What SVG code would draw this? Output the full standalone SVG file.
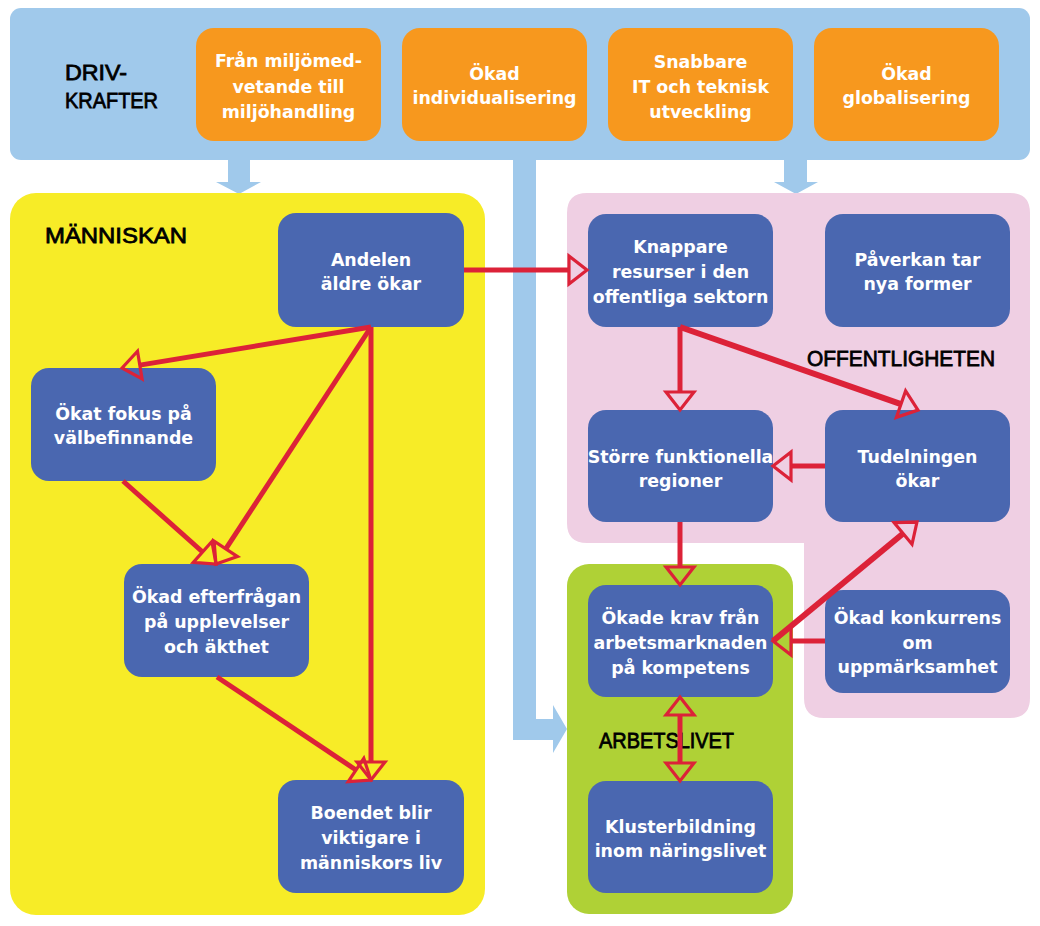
<svg xmlns="http://www.w3.org/2000/svg" width="1040" height="926" viewBox="0 0 1040 926">
<style>
.band{fill:#a0c9eb}
.drv{fill:#f7981e}
.node{fill:#4a67b0}
.t{font-family:"DejaVu Sans","Liberation Sans",sans-serif;font-weight:bold;font-size:17.4px;fill:#ffffff;text-anchor:middle}
.lbl{font-family:"Liberation Sans","DejaVu Sans",sans-serif;font-size:22.5px;fill:#000000;stroke:#000000;stroke-width:0.8}
.c{stroke:#dc2238;stroke-width:5;fill:none}
</style>
<defs>
<marker id="ah" markerUnits="userSpaceOnUse" viewBox="-2 -16 22 32" refX="0" refY="0" markerWidth="22" markerHeight="32" orient="auto-start-reverse" overflow="visible">
<path d="M0,-14 L18,0 L0,14 Z" fill="none" stroke="#dc2238" stroke-width="3.2" stroke-linejoin="miter"/>
</marker>
</defs>
<rect width="1040" height="926" fill="#ffffff"/>

<g id="drivkrafter">
<rect class="band" x="10" y="8" width="1020" height="152" rx="11"/>
<text class="lbl" x="65" y="80" textLength="62" lengthAdjust="spacingAndGlyphs">DRIV-</text>
<text class="lbl" x="65" y="108" textLength="93" lengthAdjust="spacingAndGlyphs">KRAFTER</text>
</g>
<g id="arrows-blue" class="band">
<polygon points="228,158 250,158 250,182 261,182 239,194 216,182 228,182"/>
<polygon points="784,158 807,158 807,182 818,182 796,194 774,182 784,182"/>
<polygon points="513,158 536,158 536,719 553,719 553,705 567,729 553,753 553,740 513,740"/>
</g>

<g id="d1"><rect class="drv" x="196" y="28" width="185" height="113" rx="18"/>
<text class="t" x="288.5" y="67">Från miljömed-</text><text class="t" x="288.5" y="92.5">vetande till</text><text class="t" x="288.5" y="118">miljöhandling</text></g>
<g id="d2"><rect class="drv" x="402" y="28" width="185" height="113" rx="18"/>
<text class="t" x="494.5" y="80">Ökad</text><text class="t" x="494.5" y="104">individualisering</text></g>
<g id="d3"><rect class="drv" x="608" y="28" width="185" height="113" rx="18"/>
<text class="t" x="700.5" y="68">Snabbare</text><text class="t" x="700.5" y="93">IT och teknisk</text><text class="t" x="700.5" y="118">utveckling</text></g>
<g id="d4"><rect class="drv" x="814" y="28" width="185" height="113" rx="18"/>
<text class="t" x="906.5" y="80">Ökad</text><text class="t" x="906.5" y="104">globalisering</text></g>

<g id="manniskan">
<rect x="10" y="193" width="475" height="722" rx="26" fill="#f7ec27"/>
<text class="lbl" x="45" y="243" textLength="142" lengthAdjust="spacingAndGlyphs">MÄNNISKAN</text>
</g>
<g id="offentligheten">
<path d="M587,193 H1010 Q1030,193 1030,213 V698 Q1030,718 1010,718 H824 Q804,718 804,698 V543 H587 Q567,543 567,523 V213 Q567,193 587,193 Z" fill="#efcfe3"/>
<text class="lbl" x="807" y="366" textLength="188" lengthAdjust="spacingAndGlyphs">OFFENTLIGHETEN</text>
</g>
<g id="arbetslivet">
<rect x="567" y="564" width="226" height="350" rx="22" fill="#afd136"/>
<text class="lbl" x="599" y="748" textLength="135" lengthAdjust="spacingAndGlyphs">ARBETSLIVET</text>
</g>

<g id="andelen"><rect class="node" x="278" y="213" width="186" height="114" rx="18"/>
<text class="t" x="371" y="266">Andelen</text><text class="t" x="371" y="290">äldre ökar</text></g>
<g id="fokus"><rect class="node" x="31" y="368" width="185" height="113" rx="18"/>
<text class="t" x="123.5" y="420">Ökat fokus på</text><text class="t" x="123.5" y="444">välbefinnande</text></g>
<g id="efterfragan"><rect class="node" x="124" y="564" width="185" height="113" rx="18"/>
<text class="t" x="216.5" y="603">Ökad efterfrågan</text><text class="t" x="216.5" y="628">på upplevelser</text><text class="t" x="216.5" y="653">och äkthet</text></g>
<g id="boendet"><rect class="node" x="278" y="780" width="186" height="113" rx="18"/>
<text class="t" x="371" y="819">Boendet blir</text><text class="t" x="371" y="844">viktigare i</text><text class="t" x="371" y="869">människors liv</text></g>
<g id="knappare"><rect class="node" x="588" y="214" width="185" height="113" rx="18"/>
<text class="t" x="680.5" y="253">Knappare</text><text class="t" x="680.5" y="278">resurser i den</text><text class="t" x="680.5" y="303">offentliga sektorn</text></g>
<g id="paverkan"><rect class="node" x="825" y="214" width="185" height="113" rx="18"/>
<text class="t" x="917.5" y="266">Påverkan tar</text><text class="t" x="917.5" y="290">nya former</text></g>
<g id="storre"><rect class="node" x="588" y="410" width="185" height="112" rx="18"/>
<text class="t" x="680.5" y="463">Större funktionella</text><text class="t" x="680.5" y="487">regioner</text></g>
<g id="tudelningen"><rect class="node" x="825" y="410" width="185" height="112" rx="18"/>
<text class="t" x="917.5" y="463">Tudelningen</text><text class="t" x="917.5" y="487">ökar</text></g>
<g id="krav"><rect class="node" x="588" y="585" width="185" height="112" rx="18"/>
<text class="t" x="680.5" y="624">Ökade krav från</text><text class="t" x="680.5" y="649">arbetsmarknaden</text><text class="t" x="680.5" y="674">på kompetens</text></g>
<g id="konkurrens"><rect class="node" x="825" y="590" width="185" height="103" rx="18"/>
<text class="t" x="917.5" y="624">Ökad konkurrens</text><text class="t" x="917.5" y="649">om</text><text class="t" x="917.5" y="673">uppmärksamhet</text></g>
<g id="kluster"><rect class="node" x="588" y="781" width="185" height="112" rx="18"/>
<text class="t" x="680.5" y="833">Klusterbildning</text><text class="t" x="680.5" y="857">inom näringslivet</text></g>

<g id="connectors" class="c">
<line x1="464" y1="270" x2="569" y2="270" marker-end="url(#ah)"/>
<line x1="371" y1="327" x2="139.8" y2="365.1" marker-end="url(#ah)"/>
<line x1="371" y1="327" x2="225.8" y2="548.9" marker-end="url(#ah)"/>
<line x1="123" y1="481" x2="202.6" y2="552" marker-end="url(#ah)"/>
<line x1="371" y1="327" x2="371" y2="762" marker-end="url(#ah)"/>
<line x1="217" y1="677" x2="356" y2="770" marker-end="url(#ah)"/>
<line x1="680" y1="327" x2="680" y2="392" marker-end="url(#ah)"/>
<line x1="680" y1="327" x2="901" y2="404.1" stroke-width="6" marker-end="url(#ah)"/>
<line x1="825" y1="466" x2="791" y2="466" marker-end="url(#ah)"/>
<line x1="680" y1="522" x2="680" y2="567" marker-end="url(#ah)"/>
<line x1="825" y1="641" x2="791" y2="641" marker-end="url(#ah)"/>
<line x1="773" y1="641" x2="903.1" y2="533.5" stroke-width="6" marker-end="url(#ah)"/>
<line x1="680" y1="715" x2="680" y2="763" marker-start="url(#ah)" marker-end="url(#ah)"/>
</g>
</svg>
